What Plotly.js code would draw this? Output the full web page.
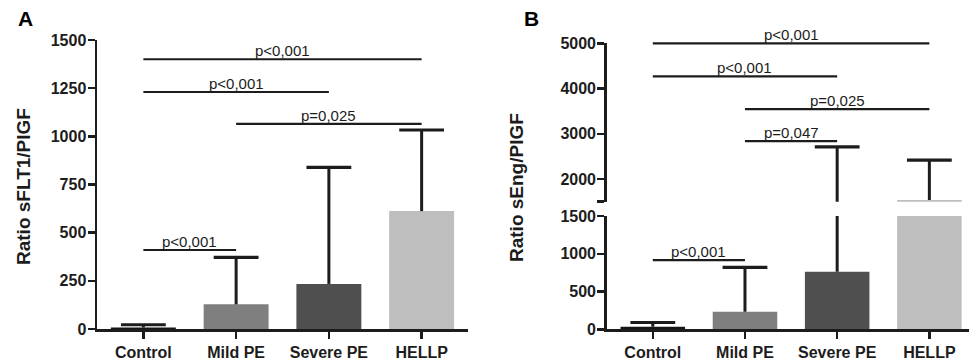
<!DOCTYPE html>
<html>
<head>
<meta charset="utf-8">
<script src="https://cdn.plot.ly/plotly-3.0.1.min.js"></script>
<style>html,body{margin:0;padding:0;background:#fff;}#chart{width:969px;height:364px;}</style>
</head>
<body>
<div id="chart"></div>
<script>
// ---- data ----
const categories = ['Control', 'Mild PE', 'Severe PE', 'HELLP'];
const barColors = ['#161616', '#7f7f7f', '#4f4f4f', '#bebebe'];

// Panel A: Ratio sFLT1/PlGF (mean and SD)
const sflt1Mean = [8, 128, 234, 612];
const sflt1SD = [14, 244, 605, 421];

// Panel B: Ratio sEng/PlGF (mean and SD)
const sengMean = [35, 233, 762, 1540];
const sengSD = [55, 587, 1951, 879];

// Significance brackets, panel A
const sigAFrom = [0, 0, 1, 0];
const sigATo = [3, 2, 3, 1];
const sigAY = [1400, 1230, 1065, 410];
const sigAText = ['p<0,001', 'p<0,001', 'p=0,025', 'p<0,001'];

// Significance brackets, panel B
const sigBFrom = [0, 0, 1, 1, 0];
const sigBTo = [3, 2, 3, 2, 1];
const sigBY = [5000, 4270, 3545, 2840, 917];
const sigBText = ['p<0,001', 'p<0,001', 'p=0,025', 'p=0,047', 'p<0,001'];

const yTicksA = [0, 250, 500, 750, 1000, 1250, 1500];
const yTicksBLow = [0, 500, 1000, 1500];
const yTicksBHigh = [1500, 2000, 3000, 4000, 5000];
const yTickTextBHigh = ['', '2000', '3000', '4000', '5000'];

// ---- styling ----
const FONT = '"Liberation Sans", Arial, Helvetica, sans-serif';
const INK = '#1c1c1c';
const W = 969, H = 364;
const BREAK = 1500;
const TOP_B = 5000;
// pixel geometry of the broken axis in panel B
const upperBottomPx = 201.7, upperTopPx = 43.3;
const lowerBottomPx = 329.3, lowerTopPx = 216;
// helper axis (same scale as upper segment) reaching to the top of the figure, so lines at 5000 are not clipped
const unitsPerPx = (TOP_B - BREAK) / (upperBottomPx - upperTopPx);
const helperTop = BREAK + upperBottomPx * unitsPerPx;

const traces = [];
function addBars(mean, sd, xa, ya) {
  traces.push({
    type: 'bar', x: categories, y: mean, xaxis: xa, yaxis: ya, width: 0.7,
    marker: {color: barColors, line: {width: 0}},
    error_y: {type: 'data', symmetric: false, array: sd, arrayminus: sd.map(() => 0),
              width: 0, thickness: 3, color: INK},
    hoverinfo: 'skip'
  });
  traces.push({
    type: 'scatter', mode: 'markers', x: categories, y: mean.map((m, i) => m + sd[i]),
    xaxis: xa, yaxis: ya,
    marker: {symbol: 'line-ew', size: 32, color: INK, line: {width: 3.2, color: INK}},
    hoverinfo: 'skip'
  });
}
addBars(sflt1Mean, sflt1SD, 'x', 'y');
addBars(sengMean, sengSD, 'x2', 'y3');
addBars(sengMean, sengSD, 'x2', 'y4');

const annotations = [];
function addSig(from, to, yv, txt, xa, yaFn) {
  for (let i = 0; i < from.length; i++) {
    const ya = yaFn(yv[i]);
    traces.push({
      type: 'scatter', mode: 'lines', x: [categories[from[i]], categories[to[i]]], y: [yv[i], yv[i]],
      xaxis: xa, yaxis: ya, cliponaxis: false, line: {color: INK, width: 2.2}, hoverinfo: 'skip'
    });
    annotations.push({
      xref: xa, yref: ya, x: (from[i] + to[i]) / 2, y: yv[i], text: txt[i], showarrow: false,
      yanchor: 'bottom', xanchor: 'center', yshift: -1, borderpad: 0,
      font: {family: FONT, size: 15, color: INK}
    });
  }
}
addSig(sigAFrom, sigATo, sigAY, sigAText, 'x', () => 'y');
addSig(sigBFrom, sigBTo, sigBY, sigBText, 'x2', v => (v >= BREAK ? 'y5' : 'y3'));

// axis titles & panel letters
annotations.push({xref: 'paper', yref: 'paper', x: 24 / W, y: 1 - 187 / H, textangle: -90,
  text: 'Ratio sFLT1/PlGF', showarrow: false, xanchor: 'center', yanchor: 'middle',
  font: {family: FONT, size: 19, color: INK, weight: 'bold'}});
annotations.push({xref: 'paper', yref: 'paper', x: 516 / W, y: 1 - 188 / H, textangle: -90,
  text: 'Ratio sEng/PlGF', showarrow: false, xanchor: 'center', yanchor: 'middle',
  font: {family: FONT, size: 19, color: INK, weight: 'bold'}});
annotations.push({xref: 'paper', yref: 'paper', x: 25 / W, y: 1 - 18 / H, text: 'A',
  showarrow: false, xanchor: 'center', yanchor: 'middle',
  font: {family: FONT, size: 21, color: '#000', weight: 'bold'}});
annotations.push({xref: 'paper', yref: 'paper', x: 531 / W, y: 1 - 18 / H, text: 'B',
  showarrow: false, xanchor: 'center', yanchor: 'middle',
  font: {family: FONT, size: 21, color: '#000', weight: 'bold'}});

const tickFont = {family: FONT, size: 16, color: INK, weight: 'bold'};
const catFont = {family: FONT, size: 16, color: INK, weight: 'bold'};
const axBase = {showgrid: false, zeroline: false, showline: true, linecolor: INK, linewidth: 2.5,
  ticks: 'outside', ticklen: 7, tickwidth: 2.5, tickcolor: INK, fixedrange: true};

const layout = {
  width: W, height: H, margin: {l: 0, r: 0, t: 0, b: 0}, showlegend: false,
  paper_bgcolor: '#fff', plot_bgcolor: 'rgba(0,0,0,0)', bargap: 0.3,
  xaxis: Object.assign({}, axBase, {domain: [97 / W, 468 / W], type: 'category',
    range: [-0.5, 3.5], anchor: 'y', tickfont: catFont}),
  yaxis: Object.assign({}, axBase, {domain: [35 / H, 324 / H], range: [0, 1500],
    tickvals: yTicksA, anchor: 'x', tickfont: tickFont, ticklabelstandoff: -2}),
  xaxis2: Object.assign({}, axBase, {domain: [606.7 / W, 1], type: 'category',
    range: [-0.5, 3.43], anchor: 'y3', tickfont: catFont}),
  yaxis3: Object.assign({}, axBase, {domain: [(H - lowerBottomPx) / H, (H - lowerTopPx) / H], range: [0, BREAK],
    tickvals: yTicksBLow, anchor: 'x2', tickfont: tickFont, ticklabelstandoff: -2}),
  yaxis4: Object.assign({}, axBase, {domain: [(H - upperBottomPx) / H, (H - upperTopPx) / H], range: [BREAK, TOP_B],
    tickvals: yTicksBHigh, ticktext: yTickTextBHigh, anchor: 'x2', tickfont: tickFont, ticklabelstandoff: -2}),
  yaxis5: {domain: [(H - upperBottomPx) / H, 1], range: [BREAK, helperTop], visible: false,
    anchor: 'x2', fixedrange: true, showgrid: false, zeroline: false},
  annotations: annotations
};

Plotly.newPlot('chart', traces, layout, {staticPlot: true, displayModeBar: false});
</script>
</body>
</html>
